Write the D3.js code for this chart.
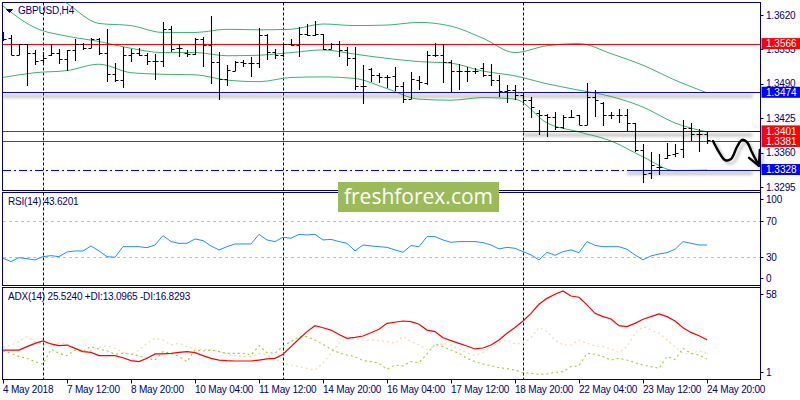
<!DOCTYPE html>
<html>
<head>
<meta charset="utf-8">
<script src="https://cdn.jsdelivr.net/npm/d3@7"></script>
<style>
body { margin: 0; background: #fff; }
svg { display: block; font-family: "Liberation Sans", Arial, sans-serif; }
</style>
</head>
<body>
<svg id="chart" width="800" height="400"></svg>
<script>

// OHLC of GBPUSD H4 bars, 4 May 04:00 .. 24 May 20:00
var open = [1.3577,1.3577,1.3544,1.3565,1.3549,1.3535,1.3544,1.3548,1.3536,1.3553,
    1.3565,1.3557,1.3574,1.3549,1.3508,1.3498,1.3544,1.3549,1.3544,1.3533,
    1.3534,1.3593,1.3557,1.3549,1.3546,1.3574,1.3563,1.3531,1.3499,1.3515,
    1.3532,1.3530,1.3530,1.3582,1.3551,1.3544,1.3566,1.3563,1.3585,1.3582,
    1.3585,1.3555,1.3565,1.3553,1.3538,1.3486,1.3518,1.3507,1.3503,1.3505,
    1.3486,1.3462,1.3497,1.3491,1.3544,1.3544,1.3532,1.3515,1.3515,1.3515,
    1.3519,1.3507,1.3498,1.3477,1.3478,1.3469,1.3459,1.3434,1.3431,1.3427,
    1.3409,1.3427,1.3431,1.3412,1.3466,1.3454,1.3431,1.3431,1.3431,1.3415,
    1.3365,1.3321,1.3333,1.3349,1.3357,1.3367,1.3406,1.3395,1.3395];
var high = [1.3587,1.3583,1.3566,1.3566,1.3553,1.3551,1.3566,1.3555,1.3554,1.3574,
    1.3568,1.3577,1.3577,1.3594,1.3529,1.3559,1.3555,1.3557,1.3548,1.3546,
    1.3606,1.3599,1.3566,1.3554,1.3576,1.3578,1.3619,1.3551,1.3525,1.3533,
    1.3535,1.3540,1.3595,1.3585,1.3555,1.3566,1.3574,1.3597,1.3603,1.3609,
    1.3585,1.3568,1.3571,1.3560,1.3559,1.3525,1.3519,1.3511,1.3507,1.3521,
    1.3494,1.3513,1.3505,1.3552,1.3568,1.3566,1.3535,1.3527,1.3522,1.3519,
    1.3529,1.3527,1.3507,1.3488,1.3488,1.3473,1.3466,1.3440,1.3433,1.3437,
    1.3431,1.3440,1.3431,1.3492,1.3479,1.3456,1.3437,1.3442,1.3442,1.3415,
    1.3376,1.3362,1.3357,1.3379,1.3377,1.3422,1.3416,1.3404,1.3399];
var low = [1.3571,1.3544,1.3544,1.3485,1.3525,1.3529,1.3543,1.3527,1.3515,1.3534,
    1.3554,1.3557,1.3544,1.3494,1.3494,1.3483,1.3532,1.3543,1.3525,1.3498,
    1.3521,1.3551,1.3540,1.3541,1.3544,1.3521,1.3490,1.3459,1.3486,1.3515,
    1.3522,1.3502,1.3519,1.3535,1.3536,1.3540,1.3561,1.3541,1.3580,1.3580,
    1.3554,1.3555,1.3541,1.3524,1.3479,1.3451,1.3494,1.3492,1.3483,1.3477,
    1.3454,1.3461,1.3478,1.3488,1.3540,1.3492,1.3475,1.3478,1.3494,1.3508,
    1.3503,1.3486,1.3466,1.3454,1.3459,1.3453,1.3425,1.3393,1.3390,1.3403,
    1.3404,1.3425,1.3412,1.3412,1.3428,1.3410,1.3423,1.3416,1.3401,1.3362,
    1.3303,1.3310,1.3318,1.3347,1.3351,1.3349,1.3382,1.3362,1.3377];
var close = [1.3575,1.3544,1.3566,1.3549,1.3533,1.3538,1.3549,1.3536,1.3554,1.3565,
    1.3557,1.3574,1.3549,1.3508,1.3498,1.3544,1.3549,1.3544,1.3533,1.3534,
    1.3593,1.3555,1.3557,1.3546,1.3574,1.3563,1.3531,1.3499,1.3516,1.3531,
    1.3529,1.3530,1.3582,1.3551,1.3544,1.3566,1.3563,1.3585,1.3582,1.3585,
    1.3555,1.3565,1.3553,1.3538,1.3486,1.3486,1.3507,1.3503,1.3503,1.3486,
    1.3462,1.3500,1.3494,1.3544,1.3544,1.3532,1.3515,1.3515,1.3515,1.3515,
    1.3507,1.3498,1.3477,1.3478,1.3469,1.3459,1.3447,1.3431,1.3427,1.3409,
    1.3428,1.3428,1.3412,1.3466,1.3459,1.3431,1.3431,1.3431,1.3415,1.3365,
    1.3319,1.3337,1.3333,1.3355,1.3359,1.3406,1.3395,1.3395,1.3384];

// Bollinger bands, read every 4th bar
var bbIndex = [0,4,8,12,16,20,24,28,32,36,40,44,48,52,56,60,64,68,72,76,80,84,88];
var bbUpper = [1.3772,1.3681,1.3642,1.3604,1.3600,1.3587,1.3587,1.3593,1.3592,1.3593,1.3603,1.3600,
    1.3601,1.3606,1.3599,1.3576,1.3549,1.3562,1.3566,1.3547,1.3525,1.3497,1.3473];
var bbMiddle = [1.3637,1.3596,1.3580,1.3570,1.3557,1.3549,1.3549,1.3543,1.3544,1.3549,1.3554,1.3546,
    1.3538,1.3532,1.3529,1.3514,1.3505,1.3490,1.3478,1.3466,1.3446,1.3416,1.3399];
var bbLower = [1.3502,1.3511,1.3515,1.3527,1.3511,1.3508,1.3507,1.3497,1.3494,1.3502,1.3503,1.3500,
    1.3481,1.3461,1.3459,1.3464,1.3461,1.3416,1.3399,1.3382,1.3352,1.3326,1.3327];

// RSI(14)
var rsi = [28.9,25.3,29.6,28.5,27.1,30.7,31.8,30.7,35.9,37.0,
    37.0,42.5,37.0,30.7,30.0,41.7,41.7,41.7,40.6,43.6,
    53.9,47.3,45.4,45.4,50.2,48.4,42.5,38.1,41.7,44.7,
    44.7,44.7,55.3,49.1,47.3,52.1,51.0,55.3,54.6,55.3,
    49.1,49.8,47.3,45.4,37.0,43.6,42.5,41.7,41.0,38.1,
    35.5,42.9,41.7,52.8,52.8,49.1,46.5,47.3,47.3,47.3,
    46.2,43.6,39.2,41.0,39.9,36.2,32.6,27.1,35.5,32.2,
    36.2,38.1,35.1,47.3,43.2,41.7,41.7,41.7,38.8,32.6,
    27.1,31.5,33.7,35.1,38.8,47.3,45.4,43.6,43.6];

// ADX(14) with +DI / -DI
var adx = [18.9,18.9,18.9,21.1,23.2,24.7,22.8,21.7,22.1,20.0,
    17.9,17.4,15.3,15.3,15.3,14.0,12.1,11.5,13.6,16.4,
    16.4,16.8,17.4,17.9,17.2,15.3,13.6,12.5,12.1,11.9,
    11.9,11.9,12.5,13.2,13.6,16.2,21.1,26.0,30.7,34.5,
    33.2,31.7,28.9,26.4,27.0,27.9,30.0,32.2,36.0,36.7,
    37.5,37.1,35.4,31.7,30.7,26.8,24.9,23.2,21.5,19.6,
    20.2,22.1,25.3,29.6,33.4,37.5,42.4,48.2,52.0,54.6,
    56.7,53.5,52.7,47.8,42.4,40.3,38.8,34.5,33.9,36.0,
    38.6,40.3,42.0,40.3,37.5,33.2,30.2,28.1,25.5];
var plusDI = [18.3,16.8,14.7,13.6,11.5,9.9,19.4,16.8,15.3,18.9,
    17.9,21.1,19.4,18.5,16.2,16.8,16.4,15.1,13.6,12.5,
    17.9,16.8,14.7,11.5,18.9,18.3,18.9,17.9,16.8,16.8,
    16.8,15.7,21.7,17.2,16.8,21.5,24.3,27.5,27.5,25.3,
    22.6,19.4,17.2,15.7,14.7,12.1,11.5,10.4,6.6,9.3,
    8.7,11.5,10.8,16.4,22.8,21.1,18.9,16.8,13.6,11.5,
    9.9,8.9,7.6,7.0,6.1,4.4,4.0,3.3,3.6,4.6,
    5.0,8.3,8.9,16.8,16.2,14.7,12.5,13.6,12.5,10.8,
    9.3,8.3,7.2,14.7,12.9,20.0,16.8,15.7,13.1];
var minusDI = [20.6,22.1,24.3,27.5,24.3,22.8,21.1,23.6,22.8,20.0,
    17.2,18.9,20.4,21.7,20.0,17.4,16.2,18.9,23.2,26.4,
    25.3,22.1,23.2,21.1,19.6,19.4,18.9,17.9,16.4,15.3,
    14.7,14.7,16.8,15.7,12.9,10.8,9.3,8.3,7.2,6.1,
    10.4,16.8,23.2,26.4,25.8,25.3,25.3,24.9,24.3,23.2,
    27.5,24.3,22.1,19.4,21.1,23.2,22.1,19.4,17.2,15.3,
    17.2,20.6,23.8,25.3,22.8,23.2,26.8,33.4,30.7,25.3,
    22.1,22.1,25.3,23.2,21.5,21.1,19.4,17.2,21.1,29.6,
    33.9,31.7,29.6,25.3,21.1,16.8,16.4,18.5,16.8];

// Axis labels
var timeTickIndex = [0,8,16,24,32,40,48,56,64,72,80,88];
var timeTickLabels = ["4 May 2018","7 May 12:00","8 May 20:00","10 May 04:00","11 May 12:00","14 May 20:00",
    "16 May 04:00","17 May 12:00","18 May 20:00","22 May 04:00","23 May 12:00","24 May 20:00"];
var priceTicks = [1.3620, 1.3555, 1.3490, 1.3425, 1.3360, 1.3295];
var separatorIndex = [5, 35, 65];

// Horizontal levels drawn on the chart
var redLevels = [1.3566, 1.3401, 1.3381];
var blueLevels = [1.3474];
var dashLevels = [1.3328];
var segStartIndex = [65, 78];          // blue segments running to the right edge
var segPrice = [1.3401, 1.3328];

// Hand drawn forecast arrow (bar index, price)
var arrowIndex = [88.75, 89.5, 90.25, 91.0, 91.75, 92.4, 93.0, 93.6, 94.5];
var arrowPrice = [1.3382, 1.3361, 1.3346, 1.3348, 1.3371, 1.3384, 1.3380, 1.3361, 1.3335];
var arrowHeadIndex = [93.25, 94.5, 94.6];
var arrowHeadPrice = [1.3350, 1.3335, 1.3365];

// Layout
var navy = "#000080",
    right = 760.5,
    mainPane = {top: 2.5, bottom: 190.5},
    rsiPane = {top: 192.5, bottom: 285.5},
    adxPane = {top: 287.5, bottom: 379.5};

var svg = d3.select("#chart");

// Filter for the soft shadow under drawn objects
var defs = svg.append("defs");
defs.append("filter")
    .attr("id", "blur")
    .attr("filterUnits", "userSpaceOnUse")
    .attr("x", 0).attr("y", 0).attr("width", 800).attr("height", 400)
  .append("feGaussianBlur")
    .attr("stdDeviation", 1.6);
defs.append("clipPath").attr("id", "clipMain")
  .append("rect")
    .attr("x", 3).attr("y", mainPane.top)
    .attr("width", right - 3).attr("height", mainPane.bottom - mainPane.top);

// Scales
var x = d3.scaleLinear().domain([0, 88]).range([3, 707]);
var y = d3.scaleLinear().domain([1.3295, 1.3620]).range([187, 15]);
var yRsi = d3.scaleLinear().domain([0, 100]).range([284.5, 193.8]);
var yAdx = d3.scaleLinear().domain([1, 58]).range([378, 289]);

// Pane frames
[mainPane, rsiPane, adxPane].forEach(function(p) {
    svg.append("rect")
        .attr("x", 2.5).attr("y", p.top)
        .attr("width", right - 2.5).attr("height", p.bottom - p.top)
        .attr("fill", "none")
        .attr("stroke", navy);
});

// Period separators
svg.selectAll(".sep")
    .data(separatorIndex)
    .enter().append("line")
    .attr("class", "sep")
    .attr("x1", function(d) { return Math.round(x(d)) + 0.5; })
    .attr("x2", function(d) { return Math.round(x(d)) + 0.5; })
    .attr("y1", mainPane.top).attr("y2", adxPane.bottom)
    .attr("stroke", navy)
    .attr("stroke-dasharray", "3,2");

var main = svg.append("g").attr("clip-path", "url(#clipMain)");

// Bollinger bands
var band = d3.line()
    .x(function(d) { return x(d[0]); })
    .y(function(d) { return y(d[1]); })
    .curve(d3.curveMonotoneX);
[bbUpper, bbMiddle, bbLower].forEach(function(s) {
    main.append("path")
        .attr("d", band(bbIndex.map(function(k, j) { return [k, s[j]]; })))
        .attr("fill", "none")
        .attr("stroke", "#3cb371")
        .attr("stroke-width", 1);
});

// Shadows of the drawn objects
var shadow = main.append("g").attr("filter", "url(#blur)").attr("opacity", 0.45);
blueLevels.forEach(function(p) {
    shadow.append("line")
        .attr("x1", 3).attr("x2", right - 8)
        .attr("y1", y(p) + 4).attr("y2", y(p) + 4)
        .attr("stroke", "#777").attr("stroke-width", 3);
});
segPrice.forEach(function(p, j) {
    shadow.append("line")
        .attr("x1", x(segStartIndex[j])).attr("x2", right - 8)
        .attr("y1", y(p) + 4).attr("y2", y(p) + 4)
        .attr("stroke", "#777").attr("stroke-width", 3);
});

// Horizontal levels
function hline(p, color, dash) {
    main.append("line")
        .attr("x1", 3).attr("x2", right)
        .attr("y1", Math.round(y(p)) + 0.5).attr("y2", Math.round(y(p)) + 0.5)
        .attr("stroke", color)
        .attr("stroke-width", 1.2)
        .attr("stroke-dasharray", dash);
}
redLevels.forEach(function(p) { hline(p, "#ff0000", null); });
blueLevels.forEach(function(p) { hline(p, "#0000ff", null); });
dashLevels.forEach(function(p) { hline(p, "#0000ff", "8,3,2,3"); });
segPrice.forEach(function(p, j) {
    main.append("line")
        .attr("x1", x(segStartIndex[j])).attr("x2", right)
        .attr("y1", Math.round(y(p)) + 0.5).attr("y2", Math.round(y(p)) + 0.5)
        .attr("stroke", "#0000ff")
        .attr("stroke-width", 1.2);
});

// OHLC bars
main.selectAll(".bar")
    .data(open)
    .enter().append("path")
    .attr("class", "bar")
    .attr("d", function(d, i) {
        var cx = Math.round(x(i)) + 0.5;
        return "M" + cx + "," + Math.round(y(high[i])) + "V" + Math.round(y(low[i]))
            + "M" + (cx - 3) + "," + (Math.round(y(d)) + 0.5) + "H" + cx
            + "M" + cx + "," + (Math.round(y(close[i])) + 0.5) + "H" + (cx + 3);
    })
    .attr("fill", "none")
    .attr("stroke", "#000")
    .attr("stroke-width", 1.1);

// Forecast arrow
var arrowLine = d3.line()
    .x(function(d) { return x(d[0]); })
    .y(function(d) { return y(d[1]); })
    .curve(d3.curveCatmullRom);
var arrowPts = arrowIndex.map(function(k, j) { return [k, arrowPrice[j]]; });
var headPts = arrowHeadIndex.map(function(k, j) { return [k, arrowHeadPrice[j]]; });
[["#888", 3, 3], ["#000", 0, 0]].forEach(function(s) {
    var g = svg.append("g")
        .attr("transform", "translate(" + s[1] + "," + s[2] + ")")
        .attr("filter", s[1] ? "url(#blur)" : null)
        .attr("opacity", s[1] ? 0.5 : 1);
    g.append("path")
        .attr("d", arrowLine(arrowPts))
        .attr("fill", "none").attr("stroke", s[0])
        .attr("stroke-width", 2.4).attr("stroke-linecap", "round");
    g.append("path")
        .attr("d", d3.line().x(function(d) { return x(d[0]); }).y(function(d) { return y(d[1]); })(headPts))
        .attr("fill", "none").attr("stroke", s[0])
        .attr("stroke-width", 2.4).attr("stroke-linecap", "round").attr("stroke-linejoin", "round");
});

// RSI pane
svg.selectAll(".rsilevel")
    .data([70, 30])
    .enter().append("line")
    .attr("x1", 3).attr("x2", right)
    .attr("y1", function(d) { return Math.round(yRsi(d)) + 0.5; })
    .attr("y2", function(d) { return Math.round(yRsi(d)) + 0.5; })
    .attr("stroke", "#c0c0c0")
    .attr("stroke-dasharray", "3,3");

var valueline = function(s) {
    return d3.line().x(function(d, i) { return x(i); }).y(function(d) { return s(d); });
};
svg.append("path")
    .attr("d", valueline(yRsi)(rsi))
    .attr("fill", "none")
    .attr("stroke", "#1e90ff")
    .attr("stroke-width", 1);

// ADX pane
svg.append("path")
    .attr("d", valueline(yAdx)(minusDI))
    .attr("fill", "none")
    .attr("stroke", "#f5d5a8")
    .attr("stroke-width", 1.1)
    .attr("stroke-dasharray", "2,3");
svg.append("path")
    .attr("d", valueline(yAdx)(plusDI))
    .attr("fill", "none")
    .attr("stroke", "#9acd32")
    .attr("stroke-width", 1.1)
    .attr("stroke-dasharray", "2,3");
svg.append("path")
    .attr("d", valueline(yAdx)(adx))
    .attr("fill", "none")
    .attr("stroke", "#ff0000")
    .attr("stroke-width", 1.2);

// Right price axis
var axisText = svg.append("g")
    .attr("font-size", "10px")
    .attr("fill", navy)
    .attr("letter-spacing", "-0.2px");

function rightLabel(yy, txt) {
    svg.append("line")
        .attr("x1", right).attr("x2", right + 3)
        .attr("y1", Math.round(yy) + 0.5).attr("y2", Math.round(yy) + 0.5)
        .attr("stroke", navy);
    axisText.append("text")
        .attr("x", 766).attr("y", yy + 3.5)
        .text(txt);
}
priceTicks.forEach(function(p) { rightLabel(y(p), p.toFixed(4)); });
rightLabel(yRsi(100) + 5.5, "100");
rightLabel(yRsi(70), "70");
rightLabel(yRsi(30), "30");
rightLabel(yRsi(0) - 6.5, "0");
rightLabel(yAdx(58) + 5, "58");
rightLabel(yAdx(1) - 6, "1");

// Level price boxes
var boxes = redLevels.map(function(p) { return [p, "#ff0000"]; })
    .concat(blueLevels.map(function(p) { return [p, "#0000ff"]; }))
    .concat(dashLevels.map(function(p) { return [p, "#0000ff"]; }));
boxes.forEach(function(b) {
    svg.append("rect")
        .attr("x", right + 1).attr("y", y(b[0]) - 5.5)
        .attr("width", 800 - right).attr("height", 11)
        .attr("fill", b[1]);
    svg.append("text")
        .attr("x", 766).attr("y", y(b[0]) + 3.8)
        .attr("font-size", "10px")
        .attr("fill", "#fff")
        .text(b[0].toFixed(4));
});

// Right axis line
svg.append("line")
    .attr("x1", right).attr("x2", right)
    .attr("y1", mainPane.top).attr("y2", adxPane.bottom)
    .attr("stroke", navy);

// Time axis
timeTickIndex.forEach(function(k, j) {
    var tx = Math.round(x(k)) + 0.5;
    svg.append("line")
        .attr("x1", tx).attr("x2", tx)
        .attr("y1", adxPane.bottom).attr("y2", adxPane.bottom + 4)
        .attr("stroke", navy);
    axisText.append("text")
        .attr("x", tx - 0.5).attr("y", 393)
        .text(timeTickLabels[j]);
});

// Titles
svg.append("path")
    .attr("d", "M6.5,9.5H12.5L9.5,12.5Z")
    .attr("fill", navy)
    .attr("stroke", navy);
axisText.append("text").attr("x", 18).attr("y", 14).text("GBPUSD,H4");
axisText.append("text").attr("x", 8).attr("y", 205).text("RSI(14) 43.6201");
axisText.append("text").attr("x", 8).attr("y", 300)
    .text("ADX(14) 25.5240 +DI:13.0965 -DI:16.8293");

// Watermark
svg.append("rect")
    .attr("x", 338).attr("y", 182)
    .attr("width", 161).attr("height", 30)
    .attr("fill", "#9bbb59");
svg.append("text")
    .attr("x", 418.5).attr("y", 204)
    .attr("text-anchor", "middle")
    .attr("font-family", "'Open Sans', sans-serif")
    .attr("font-size", "21px")
    .attr("fill", "#fff")
    .text("freshforex.com");

</script>
</body>
</html>
